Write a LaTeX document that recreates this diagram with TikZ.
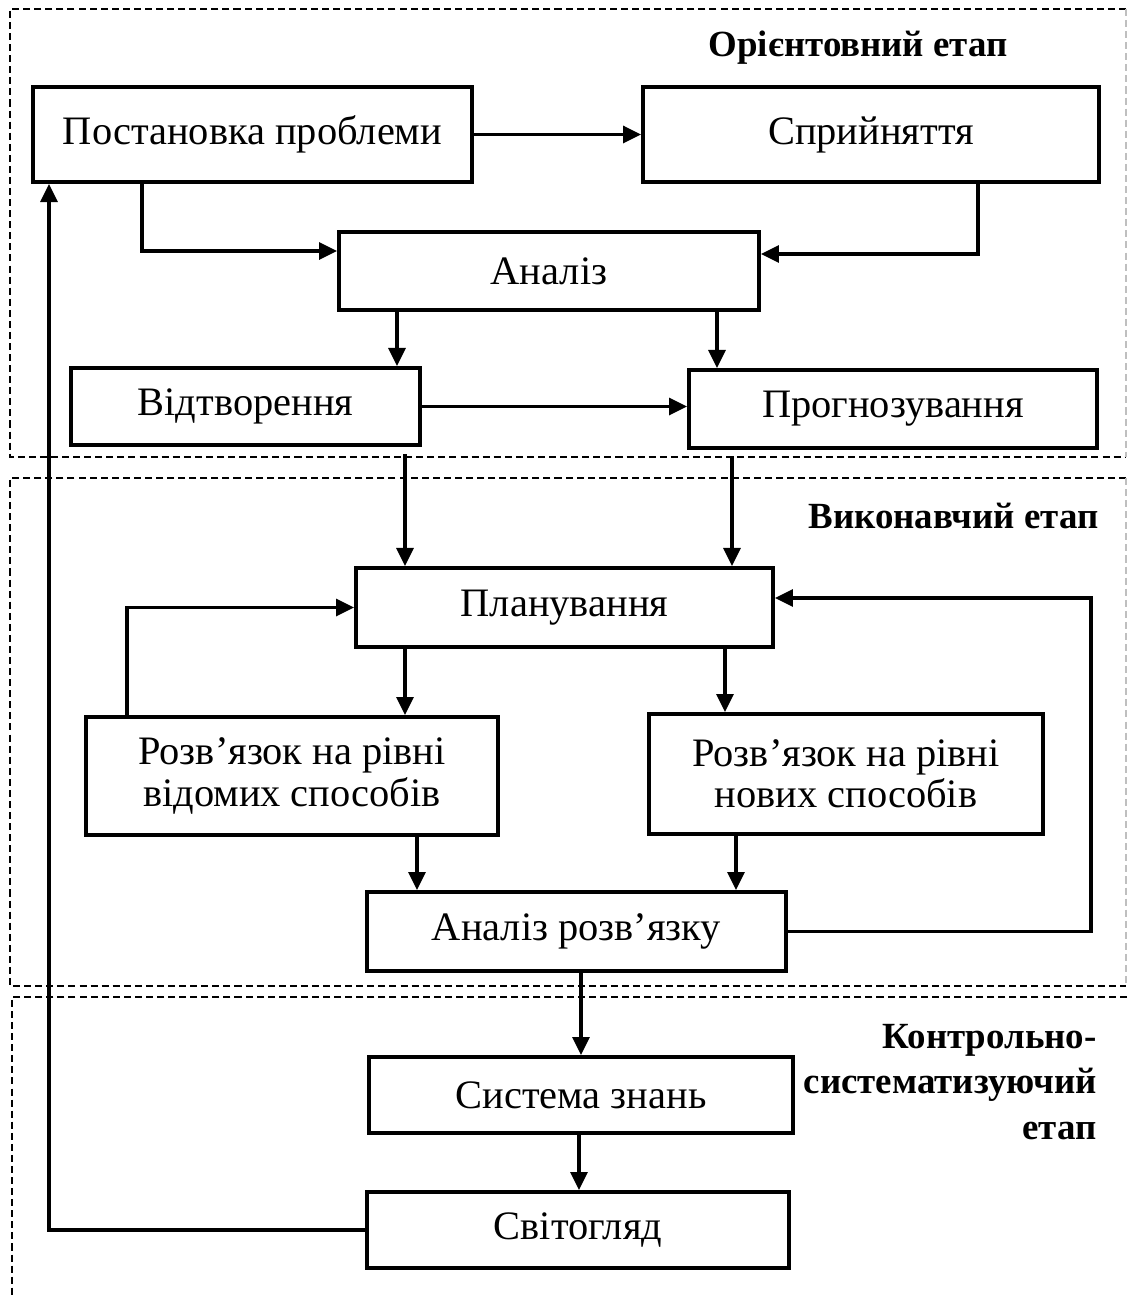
\documentclass[tikz,border=0pt]{standalone}
\usepackage{fontspec}
\setmainfont{Liberation Serif}
\usetikzlibrary{arrows.meta}

\tikzset{
  blok/.style={draw, line width=2.3pt, inner sep=0pt, align=center,
    font=\fontsize{23}{23.5}\selectfont},
  strilka/.style={line width=1.9pt, -{Triangle[length=0.36cm,width=0.34cm]}},
  ramka/.style={line width=0.8pt, dash pattern=on 4pt off 2.3pt},
  etap/.style={inner sep=0pt, align=right, font=\fontsize{21}{26}\selectfont\bfseries}
}

\begin{document}
\begin{tikzpicture}[x=0.02cm, y=-0.02cm]
  \useasboundingbox (0,0) rectangle (1127,1297);

  % rami etapiv
  \draw[ramka] (1126,9) -- (10,9) -- (10,457) -- (1126,457);
  \draw[ramka, gray!50] (1126,9) -- (1126,457);
  \draw[ramka] (1126,478) -- (10,478) -- (10,986) -- (1126,986);
  \draw[ramka, gray!50] (1126,478) -- (1126,986);
  \draw[ramka] (1127,997) -- (12,997) -- (12,1297);

  \node[etap, anchor=east] (e1) at (1008,48) {Орієнтовний етап};
  \node[etap, anchor=east] (e2) at (1099,516) {Виконавчий етап};
  \node[etap, anchor=east] (e3) at (1097,1082) {Контрольно-\\систематизуючий\\етап};

  % bloky
  \node[blok, minimum width=8.78cm, minimum height=1.90cm] (post) at (252.5,134.5) {Постановка проблеми};
  \node[blok, minimum width=9.12cm, minimum height=1.90cm] (spry) at (871,134.5) {Сприйняття};
  \node[blok, minimum width=8.40cm, minimum height=1.56cm] (anal) at (549,271) {Аналіз};
  \node[blok, minimum width=6.98cm, minimum height=1.54cm] (vidt) at (245.5,406.5) {Відтворення};
  \node[blok, minimum width=8.16cm, minimum height=1.56cm] (prog) at (893,409) {Прогнозування};
  \node[blok, minimum width=8.34cm, minimum height=1.58cm] (plan) at (564.5,607.5) {Планування};
  \node[blok, minimum width=8.24cm, minimum height=2.36cm] (vidom) at (292,776) {Розв’язок на рівні\\відомих способів};
  \node[blok, minimum width=7.88cm, minimum height=2.40cm] (novyh) at (846,774) {Розв’язок на рівні\\нових способів};
  \node[blok, minimum width=8.38cm, minimum height=1.58cm] (analr) at (576.5,931.5) {Аналіз розв’язку};
  \node[blok, minimum width=8.48cm, minimum height=1.52cm] (syst) at (581,1095) {Система знань};
  \node[blok, minimum width=8.44cm, minimum height=1.52cm] (svit) at (578,1230) {Світогляд};

  \coordinate (lk) at (127,608);
  \coordinate (pk) at (1091,598);
  \coordinate (zk) at (49,1231);

  % zvyazky
  \draw[strilka] (post) -- (spry);
  \draw[strilka] (post.south -| 142,0) |- ([yshift=0.4cm]anal.west);
  \draw[strilka] (spry.south -| 978,0) |- ([yshift=0.34cm]anal.east);
  \draw[strilka] (anal.south -| 397,0) -- (vidt.north -| 397,0);
  \draw[strilka] (anal.south -| 717,0) -- (prog.north -| 717,0);
  \draw[strilka] (vidt.east) -- (vidt.east -| prog.west);
  \draw[strilka, shorten <=0.14cm] (vidt.south -| 405,0) -- (plan.north -| 405,0);
  \draw[strilka, shorten <=0.12cm] (prog.south -| 732,0) -- (plan.north -| 732,0);
  \draw[strilka] (vidom.north -| lk) |- (plan.west);
  \draw[strilka] (plan.south -| 405,0) -- (vidom.north -| 405,0);
  \draw[strilka] (plan.south -| 725,0) -- (novyh.north -| 725,0);
  \draw[strilka] (vidom.south -| 417,0) -- (analr.north -| 417,0);
  \draw[strilka] (novyh.south -| 736,0) -- (analr.north -| 736,0);
  \draw[strilka] (analr.east) -| (pk) -- (plan.east |- pk);
  \draw[strilka] (analr.south -| 581,0) -- (syst.north -| 581,0);
  \draw[strilka] (syst.south -| 579,0) -- (svit.north -| 579,0);
  \draw[strilka] (svit.west) -| (post.south -| zk);
\end{tikzpicture}
\end{document}
